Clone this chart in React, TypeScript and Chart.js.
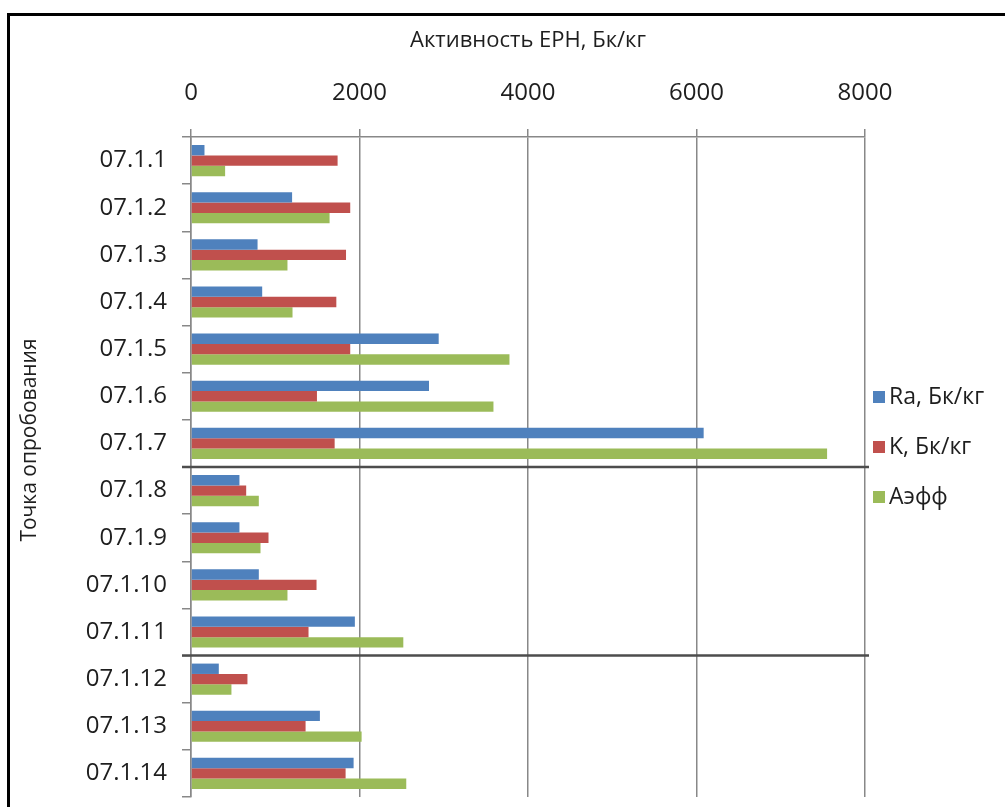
import { useEffect, useRef } from 'react';
import { Chart, registerables } from 'chart.js';

Chart.register(...registerables);

// Sampling points (categories, top to bottom)
const points = [
  '07.1.1', '07.1.2', '07.1.3', '07.1.4', '07.1.5', '07.1.6', '07.1.7',
  '07.1.8', '07.1.9', '07.1.10', '07.1.11', '07.1.12', '07.1.13', '07.1.14',
];

// Activity values, Бк/кг
const raValues = [160, 1200, 790, 845, 2940, 2825, 6085, 575, 575, 805, 1945, 330, 1530, 1930];
const kValues = [1740, 1890, 1840, 1725, 1890, 1495, 1705, 655, 920, 1490, 1395, 670, 1360, 1835];
const aeffValues = [405, 1645, 1145, 1205, 3780, 3590, 7550, 805, 825, 1145, 2520, 480, 2025, 2555];

const seriesNames = ['Ra, Бк/кг', 'K, Бк/кг', 'Аэфф'];
const seriesColors = ['#4f81bd', '#c0504d', '#9bbb59'];

const xTicks = [0, 2000, 4000, 6000, 8000];
const xTitle = 'Активность ЕРН, Бк/кг';
const yTitle = 'Точка опробования';

// Group separators: drawn after this many points
const groupBreaks = [7, 11];

const FONT = '"Open Sans", "DejaVu Sans", sans-serif';
const TEXT = '#1e1e1e';
const GRID = '#888888';

const decorPlugin = {
  id: 'decor',
  afterDatasetsDraw(chart: any) {
    const { ctx, chartArea, scales } = chart;
    const y = scales.y;
    ctx.save();
    ctx.strokeStyle = '#4d4d4d';
    ctx.lineWidth = 2.5;
    groupBreaks.forEach((n) => {
      const py = (y.getPixelForValue(n - 1) + y.getPixelForValue(n)) / 2;
      ctx.beginPath();
      ctx.moveTo(chartArea.left - 9, py);
      ctx.lineTo(chartArea.right + 4, py);
      ctx.stroke();
    });
    ctx.restore();
  },
  afterDraw(chart: any) {
    const { ctx, chartArea } = chart;
    const mid = (chartArea.top + chartArea.bottom) / 2;
    ctx.save();
    // legend
    ctx.font = `23px ${FONT}`;
    ctx.textBaseline = 'middle';
    ctx.textAlign = 'left';
    chart.data.datasets.forEach((ds: any, i: number) => {
      const cy = mid - 70 + i * 50;
      ctx.fillStyle = ds.backgroundColor;
      ctx.fillRect(chartArea.right + 8, cy - 6, 12, 12);
      ctx.fillStyle = TEXT;
      ctx.fillText(ds.label, chartArea.right + 24, cy);
    });
    // vertical axis title
    ctx.translate(20, mid - 27);
    ctx.rotate(-Math.PI / 2);
    ctx.font = `21px ${FONT}`;
    ctx.textAlign = 'center';
    ctx.fillStyle = TEXT;
    ctx.fillText(yTitle, 0, 0);
    ctx.restore();
  },
};

export default function App() {
  const canvasRef = useRef<HTMLCanvasElement | null>(null);

  useEffect(() => {
    if (!canvasRef.current) return;
    const values = [raValues, kValues, aeffValues];
    const chart = new Chart(canvasRef.current, {
      type: 'bar',
      data: {
        labels: points,
        datasets: values.map((v, i) => ({
          label: seriesNames[i],
          data: v,
          backgroundColor: seriesColors[i],
          borderWidth: 0,
          categoryPercentage: 0.66,
          barPercentage: 1,
        })),
      },
      options: {
        indexAxis: 'y',
        animation: false,
        responsive: true,
        maintainAspectRatio: false,
        layout: { padding: { left: 0, right: 140, top: 0, bottom: 32 } },
        plugins: {
          legend: { display: false },
          tooltip: { enabled: false },
        },
        scales: {
          x: {
            position: 'top',
            min: 0,
            max: 8000,
            afterBuildTicks: (s: any) => {
              s.ticks = xTicks.map((v) => ({ value: v }));
            },
            afterFit: (s: any) => {
              s.height = 121;
            },
            grid: { color: GRID, lineWidth: 1.5, tickLength: 8, drawTicks: true },
            border: { color: GRID, width: 1.5 },
            ticks: {
              padding: 21,
              color: TEXT,
              font: { family: FONT, size: 24 },
              callback: (v: any) => String(v),
            },
            title: {
              display: true,
              text: xTitle,
              color: TEXT,
              font: { family: FONT, size: 22 },
              padding: { top: 12, bottom: 0 },
            },
          },
          y: {
            afterFit: (s: any) => {
              s.width = 181;
            },
            grid: { drawOnChartArea: false, tickLength: 9, color: GRID, lineWidth: 1.5 },
            border: { color: GRID, width: 1.5 },
            ticks: { padding: 15, color: TEXT, font: { family: FONT, size: 24 } },
          },
        },
      },
      plugins: [decorPlugin],
    });
    return () => chart.destroy();
  }, []);

  return (
    <div
      style={{
        position: 'fixed',
        left: 0,
        top: 0,
        width: 1005,
        height: 807,
        overflow: 'hidden',
        background: '#fff',
      }}
    >
      <div
        style={{
          position: 'absolute',
          left: 7,
          top: 13,
          width: 1100,
          height: 900,
          borderTop: '3px solid #000',
          borderLeft: '3px solid #000',
          boxSizing: 'border-box',
        }}
      />
      <div style={{ position: 'absolute', left: 10, top: 16, width: 995, height: 813 }}>
        <canvas ref={canvasRef} />
      </div>
    </div>
  );
}
